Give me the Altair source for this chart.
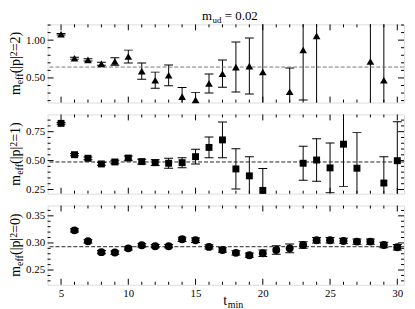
import altair as alt
import pandas as pd

FONT = "Liberation Serif"

# ---- data ----
# panel 1: |p|^2 = 2 (triangles)
t1 = [5, 6, 7, 8, 9, 10, 11, 12, 13, 14, 15, 16, 17, 18, 19, 20, 22, 23, 24, 28, 29]
m1 = [1.078, 0.761, 0.739, 0.687, 0.718, 0.783, 0.591, 0.470, 0.535, 0.252, 0.209,
      0.426, 0.556, 0.644, 0.657, 0.578, 0.317, 0.869, 1.057, 0.718, 0.470]
e1 = [0.010, 0.012, 0.015, 0.020, 0.050, 0.085, 0.108, 0.107, 0.137, 0.120, 0.100,
      0.125, 0.180, 0.330, 0.370, 1.000, 0.315, 0.660, 1.000, 1.000, 1.000]
fit1 = 0.644

# panel 2: |p|^2 = 1 (squares)
t2 = [5, 6, 7, 8, 9, 10, 11, 12, 13, 14, 15, 16, 17, 18, 19, 20, 23, 24, 25, 26, 27, 29, 30]
m2 = [0.822, 0.551, 0.520, 0.471, 0.488, 0.522, 0.491, 0.482, 0.477, 0.482, 0.534, 0.614,
      0.679, 0.428, 0.368, 0.242, 0.477, 0.505, 0.437, 0.642, 0.434, 0.306, 0.499]
e2 = [0.008, 0.010, 0.012, 0.012, 0.015, 0.018, 0.020, 0.025, 0.043, 0.043, 0.064, 0.090,
      0.154, 0.174, 0.165, 0.190, 0.148, 0.184, 0.215, 0.365, 0.310, 0.227, 0.337]
fit2 = 0.488

# panel 3: |p|^2 = 0 (circles)
t3 = [6, 7, 8, 9, 10, 11, 12, 13, 14, 15, 16, 17, 18, 19, 20, 21, 22, 23, 24, 25, 26, 27, 28, 29, 30]
m3 = [0.3232, 0.3030, 0.2830, 0.2823, 0.2900, 0.2957, 0.2940, 0.2940, 0.3067, 0.3050,
      0.2927, 0.2870, 0.2817, 0.2774, 0.2810, 0.2870, 0.2900, 0.2963, 0.3050, 0.3050,
      0.3037, 0.3024, 0.3024, 0.2963, 0.2920]
e3 = [0.003, 0.003, 0.003, 0.003, 0.003, 0.003, 0.003, 0.003, 0.004, 0.004,
      0.004, 0.004, 0.004, 0.004, 0.006, 0.008, 0.008, 0.006, 0.005, 0.005,
      0.005, 0.005, 0.005, 0.005, 0.005]
fit3 = 0.293

x_major = [5, 10, 15, 20, 25, 30]
x_minor = [6, 7, 8, 9, 11, 12, 13, 14, 16, 17, 18, 19, 21, 22, 23, 24, 26, 27, 28, 29]

y1_major = [0.5, 1.0]
y1_minor = [0.2, 0.3, 0.4, 0.6, 0.7, 0.8, 0.9, 1.1, 1.2]
y2_major = [0.25, 0.5, 0.75]
y2_minor = [0.3, 0.35, 0.4, 0.45, 0.55, 0.6, 0.65, 0.7, 0.8, 0.85]
y3_major = [0.25, 0.30, 0.35]
y3_minor = [0.23, 0.24, 0.26, 0.27, 0.28, 0.29, 0.31, 0.32, 0.33, 0.34, 0.36]

W = 360
XDOM = [4, 30.5]
one = pd.DataFrame({"k": [0]})


def txt(s, x, y, size, angle=0):
    return alt.Chart(pd.DataFrame({"s": [s]})).mark_text(
        text=s, font=FONT, fontSize=size, align="left", baseline="alphabetic",
        angle=angle, color="black"
    ).encode(x=alt.value(x), y=alt.value(y))


def ylabel(eq, H):
    segs = [("m", 14, 0), ("eff", 10, 3), ("(|p|", 14, 0), ("2", 10, -3), (eq, 14, 0)]
    widths = [0.778 * 14, 1.11 * 10, 1.233 * 14, 0.5 * 10, 1.397 * 14]
    total = sum(widths)
    pos = H / 2 + total / 2
    xb = -28
    out = []
    for (s, fs, dx), w in zip(segs, widths):
        out.append(txt(s, xb + dx, pos, fs, angle=270))
        pos -= w
    return out


def guide(**enc):
    # invisible guide that fixes the outer extent of a panel
    return alt.Chart(one).mark_rule(opacity=0, strokeWidth=1).encode(**enc)


def panel(t, m, e, fit, shape, size, ydom, ymaj, ymin, yfmt, H, eq, dash_color, show_x):
    xs = alt.Scale(domain=XDOM, nice=False, zero=False)
    ys = alt.Scale(domain=ydom, nice=False, zero=False)
    if show_x:
        xax = alt.Axis(values=x_major, format="d", ticks=False, domain=False, grid=False,
                       labelFont=FONT, labelFontSize=11, labelColor="black",
                       labelPadding=3, title=None)
    else:
        xax = None
    yax = alt.Axis(values=ymaj, format=yfmt, ticks=False, domain=False, grid=False,
                   labelFont=FONT, labelFontSize=11, labelColor="black",
                   labelPadding=3, title=None)
    df = pd.DataFrame({"t": t, "m": m,
                       "lo": [a - b for a, b in zip(m, e)],
                       "hi": [a + b for a, b in zip(m, e)]})
    base = alt.Chart(df)
    X = alt.X("t:Q", scale=xs, axis=xax)
    bars = base.mark_rule(color="black", strokeWidth=1, clip=True).encode(
        x=X, y=alt.Y("lo:Q", scale=ys, axis=yax), y2="hi:Q")
    caplo = base.mark_tick(color="black", size=9, thickness=1, clip=True,
                           orient="horizontal", opacity=1).encode(
        x=X, y=alt.Y("lo:Q", scale=ys, axis=yax))
    caphi = base.mark_tick(color="black", size=9, thickness=1, clip=True,
                           orient="horizontal", opacity=1).encode(
        x=X, y=alt.Y("hi:Q", scale=ys, axis=yax))
    fitl = alt.Chart(pd.DataFrame({"f": [fit]})).mark_rule(
        strokeDash=[4, 2], color=dash_color, strokeWidth=1).encode(
        y=alt.Y("f:Q", scale=ys, axis=yax))
    pts = base.mark_point(shape=shape, size=size, filled=True, color="black",
                          opacity=1, strokeWidth=0).encode(
        x=X, y=alt.Y("m:Q", scale=ys, axis=yax))

    def xt(vals, ln):
        d = alt.Chart(pd.DataFrame({"v": vals}))
        xv = alt.X("v:Q", scale=xs, axis=xax)
        return [
            d.mark_rule(color="black", strokeWidth=1).encode(
                x=xv, y=alt.value(H), y2=alt.value(H - ln)),
            d.mark_rule(color="black", strokeWidth=1).encode(
                x=xv, y=alt.value(0), y2=alt.value(ln)),
        ]

    def yt(vals, ln):
        d = alt.Chart(pd.DataFrame({"v": vals}))
        yv = alt.Y("v:Q", scale=ys, axis=yax)
        return [
            d.mark_rule(color="black", strokeWidth=1).encode(
                y=yv, x=alt.value(0), x2=alt.value(ln)),
            d.mark_rule(color="black", strokeWidth=1).encode(
                y=yv, x=alt.value(W), x2=alt.value(W - ln)),
        ]

    ticks = xt(x_major, 6) + xt(x_minor, 3) + yt(ymaj, 6) + yt(ymin, 3)
    layers = [bars, caplo, caphi, fitl] + ticks + [pts] + ylabel(eq, H)
    layers.append(guide(x=alt.value(-38.5), y=alt.value(10), y2=alt.value(20)))
    return layers


H1, H2, H3 = 79, 80, 80

p1 = panel(t1, m1, e1, fit1, "triangle-up", 60, [0.174, 1.209], y1_major, y1_minor,
           ".2f", H1, "=2)", "#777777", False)
p1 += [txt("m", 156, -4, 13), txt("ud", 166.5, -1.5, 9), txt("= 0.02", 179, -4, 13),
       guide(x=alt.value(0), x2=alt.value(10), y=alt.value(-13.5))]
p2 = panel(t2, m2, e2, fit2, "square", 49, [0.214, 0.899], y2_major, y2_minor,
           ".2f", H2, "=1)", "#222222", False)
p3 = panel(t3, m3, e3, fit3, "circle", 64, [0.2228, 0.369], y3_major, y3_minor,
           ".2f", H3, "=0)", "#222222", True)
p3 += [txt("t", 177.5, 100, 14), txt("min", 182, 103, 10)]

c1 = alt.layer(*p1).properties(width=W, height=H1)
c2 = alt.layer(*p2).properties(width=W, height=H2)
c3 = alt.layer(*p3).properties(width=W, height=H3)

chart = alt.vconcat(c1, c2, c3, spacing=9).properties(
    padding={"left": 0, "top": 0, "right": 2, "bottom": 0}
).configure_view(stroke="black", strokeWidth=1).configure(background="white")

chart.save("out.html", embed_options={"renderer": "svg", "actions": False})
